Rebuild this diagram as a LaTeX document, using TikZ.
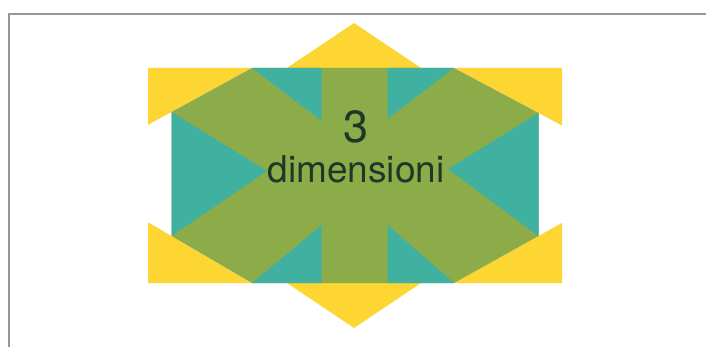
\documentclass[tikz,border=0pt]{standalone}
\usepackage{fontspec}
\setmainfont{TeX Gyre Heros}
\definecolor{ylw}{RGB}{253,214,52}
\definecolor{tealc}{RGB}{64,176,160}
\definecolor{olv}{RGB}{140,172,74}
\definecolor{txtc}{RGB}{30,56,40}
\definecolor{frm}{RGB}{150,150,150}
\begin{document}
\begin{tikzpicture}[x=1pt,y=-1pt,
  yelpart/.style={fill=ylw,draw=none},
  tealpart/.style={fill=tealc,draw=none},
  olvpart/.style={fill=olv,draw=none},
  lbl/.style={text=txtc,inner sep=0pt,anchor=base}]
\useasboundingbox (0,0) rectangle (706,347);
\fill[white] (0,0) rectangle (706,347);
\draw[frm,line width=1.6pt] (9,347) -- (9,14) -- (706,14);
% yellow points
\fill[yelpart] (354,23) -- (424,70) -- (284,70) -- cycle;
\fill[yelpart] (354,328) -- (424,281) -- (284,281) -- cycle;
\fill[yelpart] (148,68) -- (252,68) -- (148,124.8) -- cycle;
\fill[yelpart] (562,68) -- (454,68) -- (562,125.5) -- cycle;
\fill[yelpart] (148,283) -- (252,283) -- (148,222.3) -- cycle;
\fill[yelpart] (562,283) -- (454,283) -- (562,222.9) -- cycle;
% hexagon
\fill[olvpart] (171.5,112) -- (252,68) -- (454,68) -- (538.5,113) -- (538.5,236) -- (454,283) -- (252,283) -- (171.5,236) -- cycle;
% teal triangles
\fill[tealpart] (252,68) -- (321.7,68) -- (321.7,121) -- cycle;
\fill[tealpart] (387.5,68) -- (454,68) -- (387.5,119) -- cycle;
\fill[tealpart] (252,283) -- (321.7,283) -- (321.7,225) -- cycle;
\fill[tealpart] (387.5,283) -- (454,283) -- (387.5,225) -- cycle;
\fill[tealpart] (171.5,112) -- (171.5,236) -- (267,171) -- cycle;
\fill[tealpart] (538.5,113) -- (538.5,236) -- (448,169) -- cycle;
% text
\node[lbl,font=\fontsize{45}{45}\selectfont] (three) at (356,143) {3};
\node[lbl,font=\fontsize{37}{37}\selectfont] (dim) at (356,183) {dimensioni};
\end{tikzpicture}
\end{document}
